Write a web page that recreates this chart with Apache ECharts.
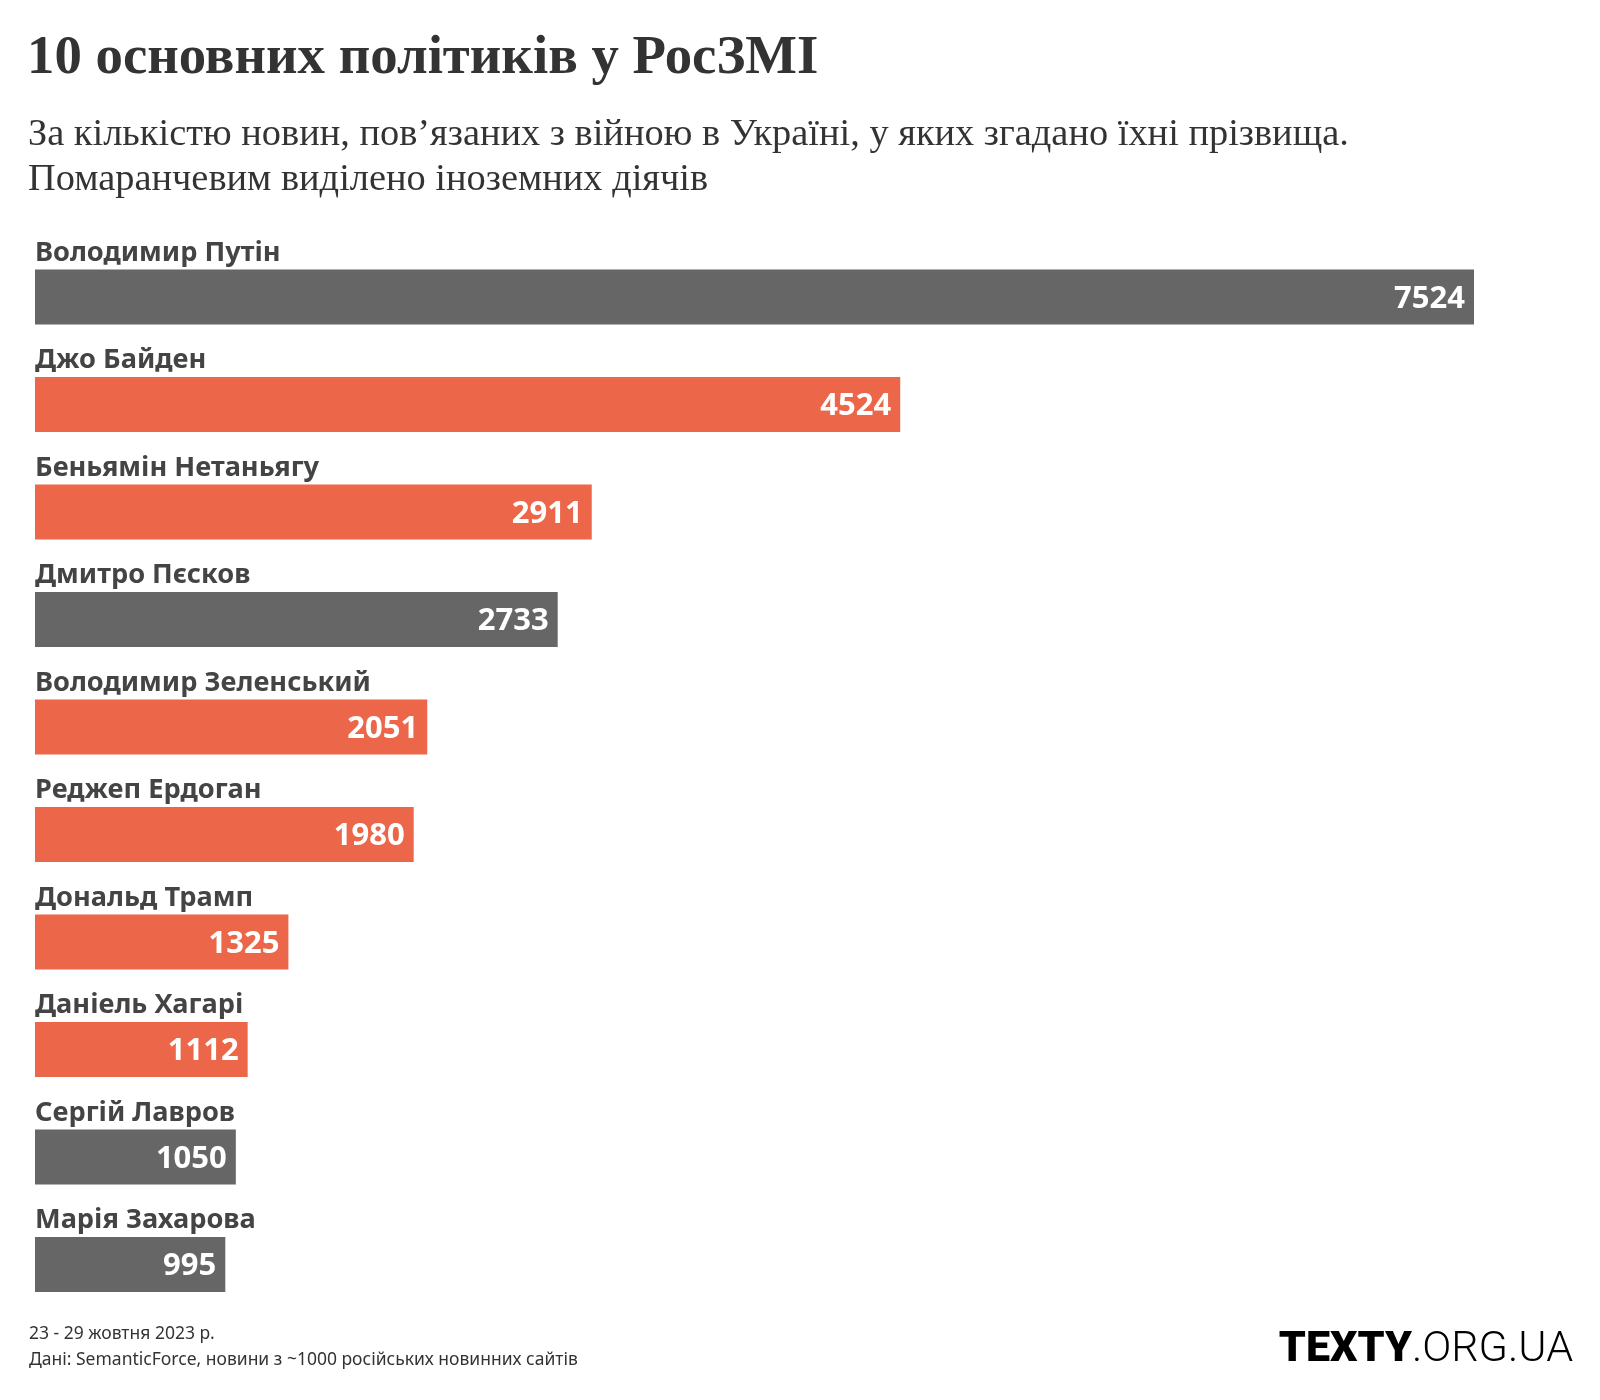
<!DOCTYPE html>
<html>
<head>
<meta charset="utf-8">
<script src="https://cdn.jsdelivr.net/npm/echarts@6/dist/echarts.min.js"></script>
<style>
html,body{margin:0;padding:0;background:#fff;}
#chart{width:1600px;height:1400px;}
</style>
</head>
<body>
<div id="chart"></div>
<script>
const names = ['Володимир Путін','Джо Байден','Беньямін Нетаньягу','Дмитро Пєсков','Володимир Зеленський','Реджеп Ердоган','Дональд Трамп','Даніель Хагарі','Сергій Лавров','Марія Захарова'];
const values = [7524,4524,2911,2733,2051,1980,1325,1112,1050,995];
const foreign = [false,true,true,false,true,true,true,true,false,false];

const GRAY = '#666666';
const ORANGE = '#ec6749';

const chart = echarts.init(document.getElementById('chart'), null, {renderer:'canvas'});

const barData = values.map((v,i)=>({value:v, itemStyle:{color: foreign[i]?ORANGE:GRAY}}));
const nameData = values.map((v,i)=>({value:v, name:names[i]}));

chart.setOption({
  backgroundColor:'#fff',
  animation:false,
  title:[
    {text:'10 основних політиків у РосЗМІ', left:22, top:26,
     textStyle:{fontFamily:'Liberation Serif', fontWeight:'bold', fontSize:54.8, color:'#333'}},
    {text:'За кількістю новин, пов\u02BCязаних з війною в Україні, у яких згадано їхні прізвища.\nПомаранчевим виділено іноземних діячів',
     left:23, top:107,
     textStyle:{fontFamily:'Liberation Serif', fontWeight:'normal', fontSize:38.4, lineHeight:45, color:'#333'}},
    {text:'23 - 29 жовтня 2023 р.\nДані: SemanticForce, новини з ~1000 російських новинних сайтів',
     left:24, top:1316,
     textStyle:{fontFamily:'Noto Sans', fontWeight:'normal', fontSize:17.5, lineHeight:26, color:'#333'}},
    {text:'{b|TEXTY}{l|.ORG.UA}', right:22, top:1324,
     textStyle:{rich:{
       b:{fontFamily:'Roboto', fontWeight:900, fontSize:43, color:'#000'},
       l:{fontFamily:'Roboto', fontWeight:300, fontSize:43, color:'#000'}
     }}}
  ],
  grid:{left:35, top:243.2, width:1439, height:1075, containLabel:false},
  xAxis:{type:'value', min:0, max:'dataMax', show:false},
  yAxis:{type:'category', data:names, inverse:true, show:false},
  series:[
    {type:'bar', data:barData, barWidth:55, barGap:'-100%', silent:true,
     label:{show:true, position:'insideRight', distance:9, offset:[0,2],
       fontFamily:'Noto Sans', fontWeight:'bold', fontSize:31, color:'#fff'}},
    {type:'bar', data:nameData, barWidth:55, barGap:'-100%', silent:true,
     itemStyle:{color:'rgba(0,0,0,0)'},
     label:{show:true, position:[0,-3], verticalAlign:'bottom', align:'left',
       formatter:'{b}', fontFamily:'Noto Sans', fontWeight:'bold', fontSize:27.2, lineHeight:27, color:'#444'}}
  ]
});
</script>
</body>
</html>
